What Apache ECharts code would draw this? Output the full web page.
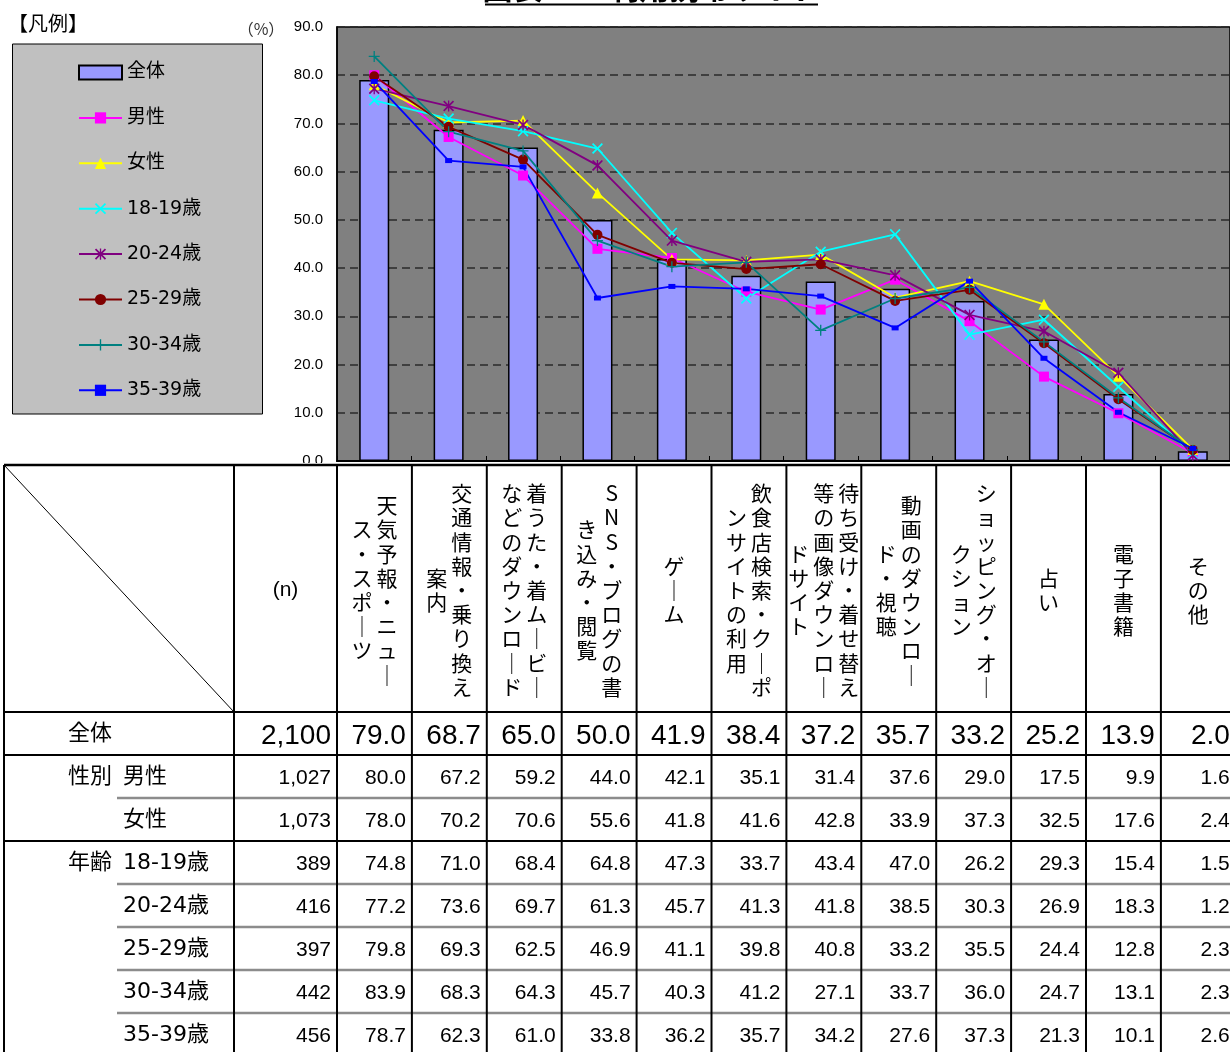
<!DOCTYPE html>
<html><head><meta charset="utf-8">
<script src="https://cdn.jsdelivr.net/npm/echarts@6/dist/echarts.min.js"></script>
<style>html,body{margin:0;padding:0;background:#fff;overflow:hidden}#c{width:1230px;height:1052px}</style>
</head><body><div id="c"></div>
<script>
// ---- data ----
const categoryColumns = [
  ['天気予報・ニュー','ス・スポーツ'],
  ['交通情報・乗り換え','案内'],
  ['着うた・着ムービー','などのダウンロード'],
  ['SNS・ブログの書','き込み・閲覧'],
  ['ゲーム'],
  ['飲食店検索・クーポ','ンサイトの利用'],
  ['待ち受け・着せ替え','等の画像ダウンロー','ドサイト'],
  ['動画のダウンロー','ド・視聴'],
  ['ショッピング・オー','クション'],
  ['占い'],
  ['電子書籍'],
  ['その他']
];
const categories = categoryColumns.map(c => c.join(''));
const seriesNames = ['全体','男性','女性','18-19歳','20-24歳','25-29歳','30-34歳','35-39歳'];
const groupLabels = ['', '性別', '', '年齢', '', '', '', ''];
const sampleSizes = [2100, 1027, 1073, 389, 416, 397, 442, 456];
const total   = [79.0, 68.7, 65.0, 50.0, 41.9, 38.4, 37.2, 35.7, 33.2, 25.2, 13.9, 2.0];
const male    = [80.0, 67.2, 59.2, 44.0, 42.1, 35.1, 31.4, 37.6, 29.0, 17.5,  9.9, 1.6];
const female  = [78.0, 70.2, 70.6, 55.6, 41.8, 41.6, 42.8, 33.9, 37.3, 32.5, 17.6, 2.4];
const age1819 = [74.8, 71.0, 68.4, 64.8, 47.3, 33.7, 43.4, 47.0, 26.2, 29.3, 15.4, 1.5];
const age2024 = [77.2, 73.6, 69.7, 61.3, 45.7, 41.3, 41.8, 38.5, 30.3, 26.9, 18.3, 1.2];
const age2529 = [79.8, 69.3, 62.5, 46.9, 41.1, 39.8, 40.8, 33.2, 35.5, 24.4, 12.8, 2.3];
const age3034 = [83.9, 68.3, 64.3, 45.7, 40.3, 41.2, 27.1, 33.7, 36.0, 24.7, 13.1, 2.3];
const age3539 = [78.7, 62.3, 61.0, 33.8, 36.2, 35.7, 34.2, 27.6, 37.3, 21.3, 10.1, 2.6];
const yTicks = { min: 0, max: 90, interval: 10 };
const tableRows = [total, male, female, age1819, age2024, age2529, age3034, age3539];

// ---- styles ----
const lineColors = ['#FF00FF','#FFFF00','#00FFFF','#800080','#800000','#008080','#0000FF'];
const X_PATH = 'path://M0,1.1L1.1,0L5,3.9L8.9,0L10,1.1L6.1,5L10,8.9L8.9,10L5,6.1L1.1,10L0,8.9L3.9,5Z';
const PLUS_PATH = 'path://M4.4,0H5.6V4.4H10V5.6H5.6V10H4.4V5.6H0V4.4H4.4Z';
const STAR_PATH = 'path://M0,1.1L1.1,0L5,3.9L8.9,0L10,1.1L6.1,5L10,8.9L8.9,10L5,6.1L1.1,10L0,8.9L3.9,5Z M4.4,0H5.6V10H4.4Z';
const symbols = [['rect',10],['triangle',11],[X_PATH,11],[STAR_PATH,11],['circle',10],[PLUS_PATH,11],['rect',[7,5]]];

const CJK = "'DejaVu Sans','Noto Sans CJK JP',sans-serif";
const NUM = "'Liberation Sans',Arial,sans-serif";

// ---- table layout ----
const TX0 = 4, TC1 = 234, TC2 = 337, COLW = 74.9;
const TTOP = 465, THB = 712, ROWH = 43;
const TRIGHT = TC2 + COLW * 12;
const G = [];
G.push({type:'rect', shape:{x:0, y:463, width:1240, height:600}, style:{fill:'#fff'}});
function line(x1,y1,x2,y2,color,w){
  G.push({type:'line', shape:{x1,y1,x2,y2}, style:{stroke:color, lineWidth:w}});
}
function text(x,y,t,size,family,align,opts){
  G.push({type:'text', x:x, y:y, style:Object.assign({text:t, fontSize:size, fontFamily:family, fill:'#000',
    align:align, verticalAlign:'middle', textAlign:align, textVerticalAlign:'middle'}, opts||{})});
}
// horizontal lines
line(TX0, TTOP, TRIGHT, TTOP, '#000', 2.5);
line(TX0, THB, TRIGHT, THB, '#000', 2);
for (let r = 1; r <= 7; r++) {
  const y = THB + ROWH * r;
  if (r === 1 || r === 3) line(TX0, y, TRIGHT, y, '#000', 2);
  else line(117, y, TRIGHT, y, '#8c8c8c', 2.5);
}
// vertical lines
line(TX0, TTOP, TX0, 1052, '#000', 2);
line(TC1, TTOP, TC1, 1052, '#000', 2);
for (let k = 0; k < 12; k++) line(TC2 + COLW*k, TTOP, TC2 + COLW*k, 1052, '#000', 2);
// diagonal
line(TX0, TTOP, TC1, THB, '#000', 1);
// header
text((TC1+TC2)/2, 590, '(n)', 21, NUM, 'center');
categoryColumns.forEach((cols, i) => {
  const cx = TC2 + COLW*(i+0.5);
  const n = cols.length;
  cols.forEach((c, j) => {
    const t = Array.from(c).map(ch => ch === 'ー' ? '｜' : ch).join('\n');
    text(cx + ((n-1)/2 - j)*25, 590, t, 21, "'Noto Sans CJK JP',sans-serif", 'center', {lineHeight:24.2});
  });
});
// rows
tableRows.forEach((vals, r) => {
  const cy = THB + ROWH*r + ROWH/2;
  const big = r === 0;
  const size = big ? 28 : 21;
  const dy = big ? 3 : 2;
  if (r === 0) text(68, cy + 1, seriesNames[r], 22, CJK, 'left');
  else text(123, cy + 1, seriesNames[r], 22, CJK, 'left');
  if (groupLabels[r]) text(68, cy + 1, groupLabels[r], 22, CJK, 'left');
  text(TC2 - 6, cy + dy, sampleSizes[r].toLocaleString('en-US'), size, NUM, 'right');
  vals.forEach((v, i) => {
    text(TC2 + COLW*(i+1) - 6, cy + dy, v.toFixed(1), size, NUM, 'right');
  });
});
// legend box & misc text
G.push({type:'rect', shape:{x:12.5, y:44, width:250, height:370}, style:{fill:'#C0C0C0', stroke:'#000', lineWidth:1}, z:-1});
text(8, 23, '【凡例】', 20, "'Noto Sans CJK JP',sans-serif", 'left');
text(261, 29, '（%）', 16, "'Noto Sans CJK JP',sans-serif", 'center', {fill:'#333'});
// title (mostly above the page)
G.push({type:'text', x:651, y:2.5, style:{text:'図表－１ 利用携帯サイト', fontSize:30, fontWeight:'bold', fontFamily:"'Noto Sans CJK JP',sans-serif", fill:'#000', align:'center', verticalAlign:'bottom', textAlign:'center', textVerticalAlign:'bottom'}});
line(485, 4.5, 818, 4.5, '#000', 2);

const lineData = [male, female, age1819, age2024, age2529, age3034, age3539];
const series = [{
  name: seriesNames[0], type: 'bar', data: total, barWidth: 30,
  itemStyle: {color:'#9999FF', borderColor:'#000', borderWidth:1.5}
}].concat(lineData.map((d, i) => ({
  name: seriesNames[i+1], type: 'line', data: d,
  symbol: symbols[i][0], symbolSize: symbols[i][1], showSymbol: true,
  lineStyle: {color: lineColors[i], width: 1.8},
  itemStyle: {color: lineColors[i]}
})));

const chart = echarts.init(document.getElementById('c'));
chart.setOption({
  animation: false,
  backgroundColor: '#fff',
  grid: {left: TC2, top: 27, right: 1230 - TRIGHT, bottom: 1052 - 461, show: true,
         backgroundColor: '#808080', borderColor: '#000', borderWidth: 1.5},
  legend: {
    orient: 'vertical', left: 73, top: 58, itemWidth: 43, itemHeight: 14, itemGap: 26.4,
    selectedMode: false,
    data: seriesNames.map((n, i) => i === 0 ? {name: n, icon: 'rect'} : {name: n}),
    textStyle: {fontSize: 19, fontFamily: CJK, color: '#000', lineHeight: 14}
  },
  xAxis: {
    type: 'category', data: categories,
    axisLine: {show: true, lineStyle: {color: '#000', width: 2}},
    axisTick: {show: true, inside: true, length: 5, interval: 0, lineStyle: {color: '#000', width: 1}},
    axisLabel: {show: false}, splitLine: {show: false}
  },
  yAxis: {
    type: 'value', min: yTicks.min, max: yTicks.max, interval: yTicks.interval,
    axisLine: {show: true, lineStyle: {color: '#000', width: 1.5}},
    axisTick: {show: false},
    axisLabel: {formatter: v => v.toFixed(1), fontSize: 15, fontFamily: NUM, color: '#000', margin: 14},
    splitLine: {show: true, lineStyle: {color: '#2a2a2a', type: [8, 5], width: 1.5}}
  },
  graphic: {elements: G.map(e => Object.assign({silent: true, z: e.z !== undefined ? e.z : 100}, e))},
  series: series
});
</script></body></html>
